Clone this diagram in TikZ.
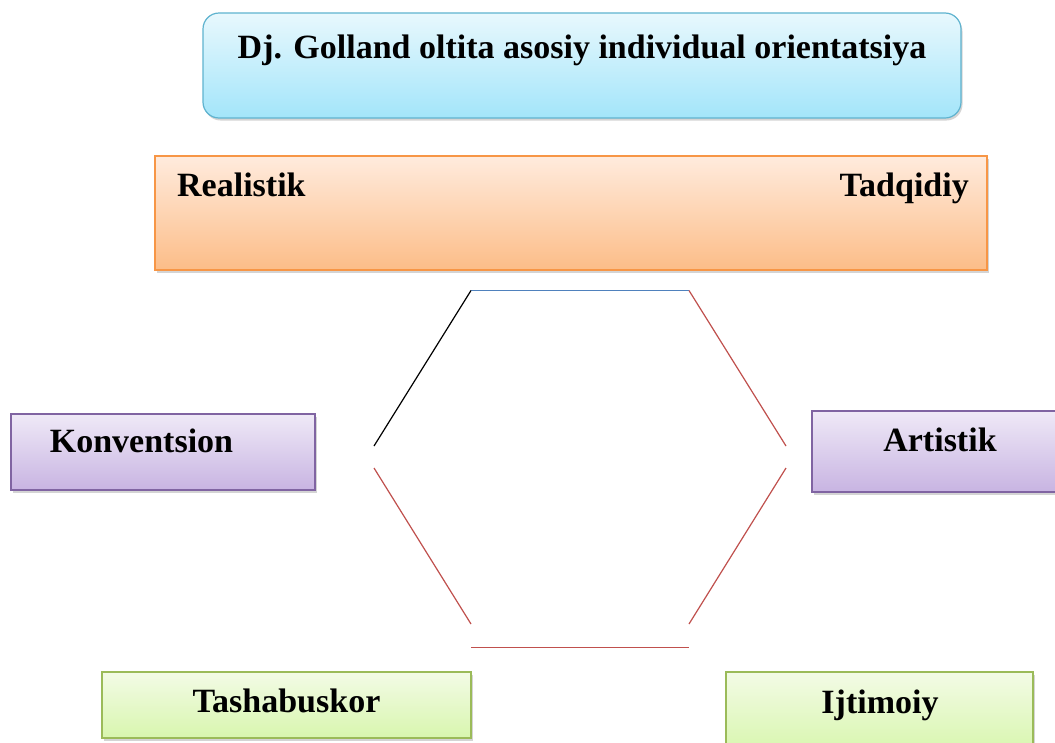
\documentclass[tikz,border=0pt]{standalone}
\usepackage{fontspec}
\setmainfont{Liberation Serif}
\usetikzlibrary{shadows}

\definecolor{skyTop}{HTML}{E8F8FD}
\definecolor{skyBot}{HTML}{A3E5FA}
\definecolor{skyLine}{HTML}{5FB3CF}
\definecolor{peachTop}{HTML}{FFEBDD}
\definecolor{peachBot}{HTML}{FCBD88}
\definecolor{peachLine}{HTML}{F79646}
\definecolor{lilacTop}{HTML}{EFE9F7}
\definecolor{lilacBot}{HTML}{C8B4E2}
\definecolor{lilacLine}{HTML}{8064A2}
\definecolor{limeTop}{HTML}{F3FBE6}
\definecolor{limeBot}{HTML}{D8F6AE}
\definecolor{limeLine}{HTML}{9BBB59}
\definecolor{hexBlue}{HTML}{4F81BD}
\definecolor{hexRed}{HTML}{C0504D}

\tikzset{
  panel/.style={rectangle, inner sep=0pt, line width=1.2pt,
    drop shadow={shadow xshift=1.5pt, shadow yshift=-2.5pt, opacity=0.3, fill=black!55}},
  skypanel/.style={panel, draw=skyLine, top color=skyTop, bottom color=skyBot, rounded corners=16pt},
  peachpanel/.style={panel, draw=peachLine, top color=peachTop, bottom color=peachBot},
  lilacpanel/.style={panel, draw=lilacLine, top color=lilacTop, bottom color=lilacBot},
  limepanel/.style={panel, draw=limeLine, top color=limeTop, bottom color=limeBot},
  caption/.style={font=\fontsize{34}{40}\selectfont\bfseries, inner sep=0pt, anchor=base},
  hexedge/.style={line width=1.2pt},
}

\begin{document}
\begin{tikzpicture}[x=1pt, y=-1pt]
  \clip (0,0) rectangle (1055,742);
  \fill[white] (0,0) rectangle (1055,742);

  % coloured panels
  \node[skypanel,  minimum width=758pt, minimum height=105pt] (title) at (582,65.5) {};
  \node[peachpanel, minimum width=832pt, minimum height=114pt] (top)  at (571,213) {};
  \node[lilacpanel, minimum width=304pt, minimum height=76pt]  (konv) at (163,452) {};
  \node[lilacpanel, minimum width=250pt, minimum height=81pt]  (art)  at (937,451.5) {};
  \node[limepanel,  minimum width=369pt, minimum height=66pt]  (tash) at (286.5,705) {};
  \node[limepanel,  minimum width=307pt, minimum height=80pt]  (ijt)  at (879.5,712) {};

  % captions
  \node[caption] (titletext) at (582,58) {Dj. Golland oltita asosiy individual orientatsiya};
  \node[caption, anchor=base west] (realtext) at (177,196) {Realistik};
  \node[caption, anchor=base east] (tadqtext) at (969,196) {Tadqidiy};
  \node[caption] (konvtext) at (141.5,452) {Konventsion};
  \node[caption] (arttext)  at (940,451) {Artistik};
  \node[caption] (tashtext) at (286.5,712) {Tashabuskor};
  \node[caption] (ijttext)  at (880,713) {Ijtimoiy};

  % hexagon vertices
  \coordinate (tl) at (471,290.5);
  \coordinate (tr) at (689,290.5);
  \coordinate (lu) at (374,446);
  \coordinate (ru) at (786,446);
  \coordinate (ll) at (374,468);
  \coordinate (rl) at (786,468);
  \coordinate (bl) at (471,624);
  \coordinate (br) at (689,624);
  \coordinate (sl) at (471,647.5);
  \coordinate (sr) at (689,647.5);

  % hexagon edges
  \draw[hexedge, hexBlue] (tl) -- (tr);
  \draw[hexedge, black]   (lu) -- (tl);
  \draw[hexedge, hexRed]  (tr) -- (ru);
  \draw[hexedge, hexRed]  (ll) -- (bl);
  \draw[hexedge, hexRed]  (rl) -- (br);
  \draw[hexedge, hexRed]  (sl) -- (sr);
\end{tikzpicture}
\end{document}
